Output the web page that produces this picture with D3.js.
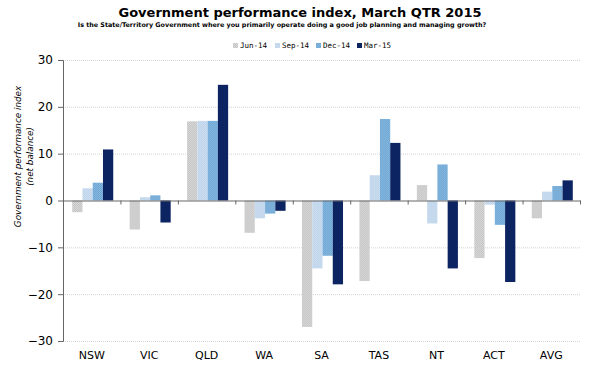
<!DOCTYPE html>
<html>
<head>
  <meta charset="utf-8">
  <script src="https://cdn.jsdelivr.net/npm/d3@7"></script>
  <style>
    body { margin: 0; background: #fff; }
    svg { display: block; font-family: "DejaVu Sans", Verdana, sans-serif; }
  </style>
</head>
<body>
  <div id="chart"></div>
  <script>
    const states = ["NSW", "VIC", "QLD", "WA", "SA", "TAS", "NT", "ACT", "AVG"];
    const seriesNames = ["Jun-14", "Sep-14", "Dec-14", "Mar-15"];
    const jun14 = [-2.5, -6.2, 16.9, -6.9, -27.0, -17.2, 3.3, -12.3, -3.8];
    const sep14 = [2.6, 0.7, 17.0, -3.8, -14.5, 5.4, -4.9, -0.9, 1.9];
    const dec14 = [3.8, 1.1, 17.0, -2.8, -11.8, 17.4, 7.7, -5.2, 3.1];
    const mar15 = [10.9, -4.7, 24.7, -2.2, -17.9, 12.3, -14.5, -17.4, 4.3];
    const yTicks = [-30, -20, -10, 0, 10, 20, 30];

    const allSeries = [jun14, sep14, dec14, mar15];

    // chart setup
    const width = 600;
    const height = 373;
    const margin = { top: 60, right: 20, bottom: 32, left: 63 };

    const svg = d3.select("#chart")
      .append("svg")
      .attr("width", width)
      .attr("height", height);

    // textured fills, like the original Excel chart
    const defs = svg.append("defs");
    const fills = [
      { id: "pJun", base: "#d8d8d8", dot: "#c4c4c4" },
      { id: "pSep", base: "#cddff0", dot: "#bdd3ea" },
      { id: "pDec", base: "#86b8df", dot: "#6fa6d4" },
    ];
    fills.forEach(f => {
      const p = defs.append("pattern")
        .attr("id", f.id)
        .attr("width", 2).attr("height", 2)
        .attr("patternUnits", "userSpaceOnUse");
      p.append("rect").attr("width", 2).attr("height", 2).attr("fill", f.base);
      p.append("rect").attr("width", 1).attr("height", 1).attr("fill", f.dot);
      p.append("rect").attr("x", 1).attr("y", 1).attr("width", 1).attr("height", 1).attr("fill", f.dot);
    });
    const colors = ["url(#pJun)", "url(#pSep)", "url(#pDec)", "#0c2461"];

    // scales
    const x0 = d3.scaleBand()
      .domain(states)
      .range([margin.left, width - margin.right]);

    const x1 = d3.scaleBand()
      .domain(seriesNames)
      .range([0, x0.bandwidth()])
      .paddingOuter(0.8);

    const y = d3.scaleLinear()
      .domain([-30, 30])
      .range([height - margin.bottom, margin.top]);

    // gridlines
    svg.append("g")
      .selectAll("line")
      .data(yTicks.filter(d => d !== 0))
      .join("line")
      .attr("x1", margin.left)
      .attr("x2", width - margin.right)
      .attr("y1", d => y(d) + 0.5)
      .attr("y2", d => y(d) + 0.5)
      .attr("stroke", "#d4d4d4")
      .attr("stroke-dasharray", "1,1");

    // bars
    const groups = svg.append("g")
      .selectAll("g")
      .data(states)
      .join("g")
      .attr("transform", d => `translate(${x0(d) + 1},0)`);

    groups.selectAll("rect")
      .data((d, i) => seriesNames.map((s, j) => ({ s, j, v: allSeries[j][i] })))
      .join("rect")
      .attr("x", d => x1(d.s))
      .attr("width", x1.bandwidth())
      .attr("y", d => y(Math.max(0, d.v)))
      .attr("height", d => Math.abs(y(d.v) - y(0)))
      .attr("fill", d => colors[d.j]);

    // y axis
    const axisY = svg.append("g")
      .attr("transform", `translate(${margin.left},0)`)
      .call(d3.axisLeft(y).tickValues(yTicks).tickSize(5).tickPadding(5));
    axisY.select(".domain").attr("stroke", "#666");
    axisY.selectAll(".tick line").attr("stroke", "#666");
    axisY.selectAll("text").attr("font-size", 12).attr("fill", "#000")
      .attr("font-family", "DejaVu Sans, Verdana, sans-serif");

    // zero line with category ticks
    const axisX = svg.append("g")
      .attr("transform", `translate(0,${y(0)})`)
      .call(d3.axisBottom(x0).tickSize(0).tickFormat(""));
    axisX.select(".domain").attr("stroke", "#666");
    axisX.selectAll(".tick").remove();

    svg.append("g")
      .selectAll("line")
      .data(states)
      .join("line")
      .attr("x1", d => x0(d) + x0.bandwidth() + 0.5)
      .attr("x2", d => x0(d) + x0.bandwidth() + 0.5)
      .attr("y1", y(0))
      .attr("y2", y(0) + 4)
      .attr("stroke", "#666");

    // category labels
    svg.append("g")
      .selectAll("text")
      .data(states)
      .join("text")
      .attr("x", d => x0(d) + x0.bandwidth() / 2)
      .attr("y", height - 14)
      .attr("text-anchor", "middle")
      .attr("font-size", 11)
      .text(d => d);

    // y axis title
    const yTitle = svg.append("text")
      .attr("transform", `translate(21,${y(9.4)}) rotate(-90)`)
      .attr("text-anchor", "middle")
      .attr("font-size", 8.8)
      .attr("font-style", "italic");
    yTitle.append("tspan").attr("x", 0).attr("dy", 0).text("Government performance index");
    yTitle.append("tspan").attr("x", 0).attr("dy", 12).text("(net balance)");

    // titles
    svg.append("text")
      .attr("x", 300).attr("y", 17)
      .attr("text-anchor", "middle")
      .attr("font-size", 13)
      .attr("font-weight", "bold")
      .text("Government performance index, March QTR 2015");

    svg.append("text")
      .attr("x", 282).attr("y", 27)
      .attr("text-anchor", "middle")
      .attr("font-size", 6.4)
      .attr("font-weight", "bold")
      .text("Is the State/Territory Government where you primarily operate doing a good job planning and managing growth?");

    // legend
    const legendX = [233, 275, 316, 357];
    const legend = svg.append("g")
      .selectAll("g")
      .data(seriesNames)
      .join("g")
      .attr("transform", (d, i) => `translate(${legendX[i]},48)`);
    legend.append("rect")
      .attr("x", 0).attr("y", -5)
      .attr("width", 5).attr("height", 5)
      .attr("fill", (d, i) => colors[i]);
    legend.append("text")
      .attr("x", 7).attr("y", 0)
      .attr("font-size", 7.5)
      .attr("font-family", "DejaVu Sans Mono, monospace")
      .text(d => d);
  </script>
</body>
</html>
